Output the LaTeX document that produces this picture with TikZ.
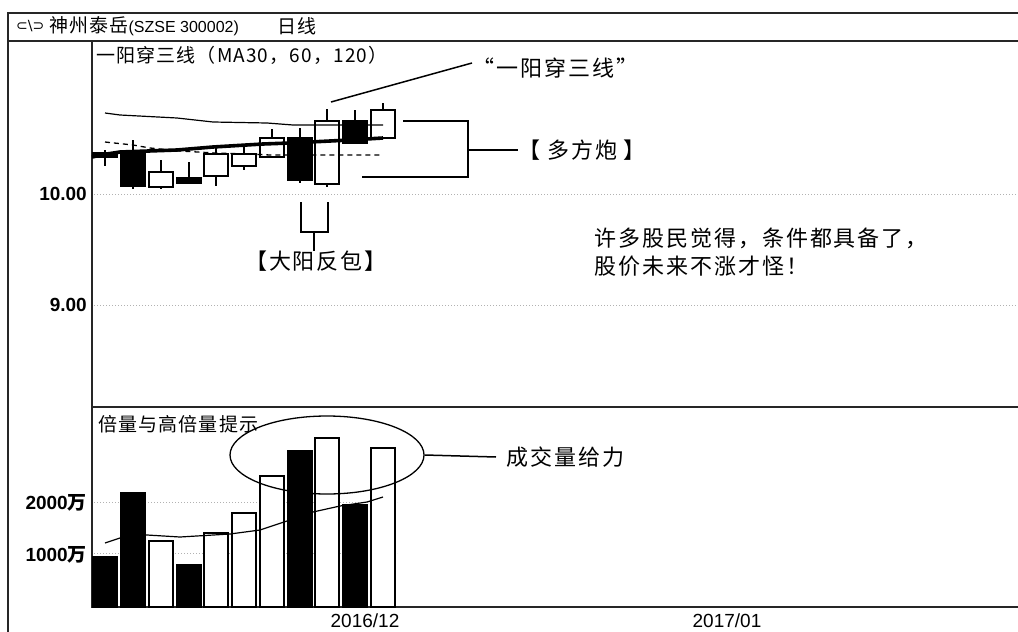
\documentclass[tikz,border=0pt]{standalone}
\usepackage{fontspec}
\setmainfont{Liberation Sans}
\newfontfamily\cjkfont[LetterSpace=6]{Noto Sans CJK SC}
\newfontfamily\notefont[LetterSpace=9]{Noto Sans CJK SC}
\newfontfamily\symfont{DejaVu Sans}
\usetikzlibrary{shapes.geometric}
\tikzstyle{frameline} = [draw, line width=1.5pt, color=black!85]
\tikzstyle{gridline} = [draw, line width=1pt, color=black!30, dotted]
\tikzstyle{wick} = [draw, line width=1.4pt]
\tikzstyle{candlebody} = [draw, line width=1.5pt]
\tikzstyle{volbar} = [draw, line width=1.5pt]
\tikzstyle{maline} = [draw, line width=1.2pt]
\tikzstyle{mathick} = [draw, line width=3.6pt]
\tikzstyle{madash} = [draw, line width=1.3pt, dash pattern=on 5pt off 4pt]
\tikzstyle{chart} = [inner sep=0pt, font=\cjkfont\fontsize{19}{21}\selectfont]
\tikzstyle{axisnum} = [inner sep=0pt, anchor=east,
  font=\fontsize{19}{21}\selectfont\bfseries]
\tikzstyle{datenum} = [inner sep=0pt, font=\fontsize{19}{20}\selectfont]
\tikzstyle{note} = [inner sep=0pt, align=left,
  font=\notefont\fontsize{22}{28}\selectfont]
\tikzstyle{callout} = [draw, line width=1.5pt]
\newcommand{\candle}[6]{%
  % wick first, body on top of it
  \path[wick] (#1,#2) -- (#1,#5);
  \path[candlebody, fill=#6] (#1-12,#3) rectangle (#1+12,#4);}
\newcommand{\volumebar}[3]{%
  \path[volbar, fill=#3] (#1-12,607) rectangle (#1+12,#2);}
\begin{document}
\begin{tikzpicture}[x=1pt,y=-1pt]
  \useasboundingbox (0,0) rectangle (1018,632);

  % window frame and the two panels
  \path[frameline] (8,632) -- (8,13) -- (1018,13);
  \path[frameline, line width=2pt] (8,41) -- (1018,41);
  \path[frameline] (92,41) -- (92,607) -- (1018,607);
  \path[frameline] (92,407) -- (1018,407);

  % grid lines
  \path[gridline] (94,194) -- (1018,194);
  \path[gridline] (94,305) -- (1018,305);
  \path[gridline] (94,502) -- (397,502);
  \path[gridline] (94,553) -- (397,553);

  % header and panel titles
  \node (ICON) [anchor=west, inner sep=0pt,
    font=\symfont\fontsize{14}{16}\selectfont] at (16,26) {⊂\textbackslash⊃};
  \node (STOCK) [chart, anchor=west] at (49,26)
    {神州泰岳{\normalfont\fontsize{16}{18}\selectfont(SZSE 300002)}};
  \node (PERIOD) [chart, anchor=west] at (277,26) {日线};
  \node (PRICETITLE) [chart, anchor=west] at (96,55) {一阳穿三线（MA30，60，120）};
  \node (VOLTITLE) [chart, anchor=west] at (98,424) {倍量与高倍量提示};

  % axis numbers
  \node (P10) [axisnum] at (87,194) {10.00};
  \node (P9) [axisnum] at (87,305) {9.00};
  \node (V2000) [axisnum] at (87,503) {2000{\cjkfont 万}};
  \node (V1000) [axisnum] at (87,555) {1000{\cjkfont 万}};
  \node (DEC) [datenum] at (365,621) {2016/12};
  \node (JAN) [datenum] at (727,621) {2017/01};

  % candles: x / wick top / body top / body bottom / wick bottom / fill
  \foreach \cx/\wt/\bt/\bb/\wb/\col in {105/150/153/157/166/black,
      133/140/151/186/189/black, 161/160/172/187/189/white,
      189/162/178/183/184/black, 216/146/154/176/186/white,
      244/147/154/166/170/white, 272/129/138/157/157/white,
      300/128/138/180/183/black, 327/109/121/184/187/white,
      355/110/121/143/144/black, 383/103/110/138/138/white}
    {\candle{\cx}{\wt}{\bt}{\bb}{\wb}{\col}}

  % moving averages
  \path[maline] (105,113) -- (120,115) -- (177,118) -- (213,122)
    -- (267,123) -- (293,125) -- (383,125);
  \path[madash] (105,142) -- (133,145) -- (150,148) -- (180,151)
    -- (215,153) -- (250,154) -- (270,155) -- (383,155);
  \path[mathick] (92,157) -- (107,154) -- (120,152) -- (177,150)
    -- (213,147) -- (263,144) -- (290,143) -- (350,140) -- (383,138);

  % volume bars: x / top / fill
  \foreach \cx/\vol/\col in {105/557/black, 133/493/black, 161/541/white,
      189/565/black, 216/533/white, 244/513/white, 272/476/white,
      300/451/black, 327/438/white, 355/505/black, 383/448/white}
    {\volumebar{\cx}{\vol}{\col}}
  \path[maline] (105,543) -- (120,538) -- (147,535) -- (180,537)
    -- (230,534) -- (260,530) -- (287,521) -- (313,512) -- (340,506)
    -- (367,502) -- (383,497);

  % annotations
  \coordinate (CALLTIP) at (331,102);
  \node (QUOTE) [note, anchor=west] at (472,68) {“一阳穿三线”};
  \path[callout] (CALLTIP) -- ([yshift=5pt]QUOTE.west);

  \coordinate (FORK) at (468,150);
  \node (DUOFANG) [note, anchor=west] at (518,150) {【 多方炮 】};
  \path[callout] (403,121) -- (468,121) -- (468,177) -- (362,177);
  \path[callout] (FORK) -- (DUOFANG.west);

  \coordinate (STEM) at (314,232);
  \node (DAYANG) [note, anchor=north] at (316,251) {【大阳反包】};
  \path[callout] (301,202) -- (301,232) -- (328,232) -- (328,202);
  \path[callout] (STEM) -- (DAYANG.north -| STEM);

  \node (ADVICE) [note, anchor=north west] at (594,228)
    {许多股民觉得，条件都具备了，\\股价未来不涨才怪！};

  \node (VOLRING) [draw, ellipse, line width=1.3pt, inner sep=0pt,
    minimum width=194pt, minimum height=78pt] at (327,455) {};
  \node (VOLNOTE) [note, anchor=west] at (506,457) {成交量给力};
  \path[callout] (VOLRING.east) -- ([xshift=-10pt]VOLNOTE.west);

\end{tikzpicture}
\end{document}
